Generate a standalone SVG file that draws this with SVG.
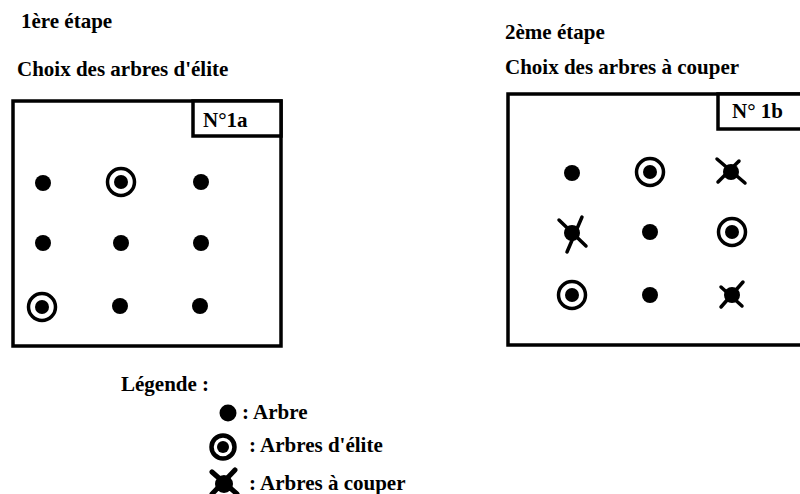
<svg xmlns="http://www.w3.org/2000/svg" width="800" height="494" viewBox="0 0 800 494">
<defs>
<style>
text{font-family:"Liberation Serif","Times New Roman",serif;font-weight:bold;fill:#000;}
.t{font-size:21px;}
.box{fill:#fff;stroke:#000;stroke-width:3.5;}
.dot{fill:#000;}
.ring{fill:none;stroke:#000;stroke-width:3.5;}
.x{stroke:#000;stroke-width:3.5;stroke-linecap:round;}
</style>
<g id="tree"><circle class="dot" r="8"/></g>
<g id="elite"><circle class="ring" r="13.5"/><circle class="dot" r="7"/></g>
</defs>
<rect width="800" height="494" fill="#fff"/>
<g id="titles">
<text class="t" x="21" y="28">1ère étape</text>
<text class="t" x="17" y="76">Choix des arbres d'élite</text>
<text class="t" x="505" y="39">2ème étape</text>
<text class="t" x="505" y="74">Choix des arbres à couper</text>
</g>
<g id="plot1a">
<rect class="box" x="13" y="101" width="268" height="245"/>
<rect class="box" x="193" y="101" width="88" height="35"/>
<text class="t" x="203" y="127">N°1a</text>
<use href="#tree" x="43" y="183"/>
<use href="#elite" x="121" y="182"/>
<use href="#tree" x="201" y="182"/>
<use href="#tree" x="43" y="243"/>
<use href="#tree" x="121" y="243"/>
<use href="#tree" x="201" y="243"/>
<use href="#elite" x="42" y="307"/>
<use href="#tree" x="120" y="306"/>
<use href="#tree" x="200" y="306"/>
</g>
<g id="plot1b">
<rect class="box" x="508" y="94" width="300" height="251"/>
<rect class="box" x="718" y="94" width="90" height="35"/>
<text class="t" x="732" y="118">N° 1b</text>
<use href="#tree" x="572" y="173"/>
<use href="#elite" x="650" y="172"/>
<g transform="translate(731,172)"><circle class="dot" r="8"/><line class="x" x1="-14" y1="-13" x2="14" y2="11"/><line class="x" x1="8" y1="-11" x2="-13" y2="10"/></g>
<g transform="translate(572,233)"><circle class="dot" r="8"/><line class="x" x1="-13" y1="-13" x2="14" y2="13"/><line class="x" x1="10" y1="-16" x2="-5" y2="19"/></g>
<use href="#tree" x="650" y="232"/>
<use href="#elite" x="732" y="232"/>
<use href="#elite" x="572" y="295"/>
<use href="#tree" x="650" y="295"/>
<g transform="translate(732,295)"><circle class="dot" r="8"/><line class="x" x1="11" y1="-13" x2="-11" y2="12"/><line class="x" x1="-11" y1="-8" x2="10" y2="11"/></g>
</g>
<g id="legend">
<text class="t" x="121" y="391">Légende :</text>
<circle class="dot" cx="228" cy="413" r="8.5"/>
<text class="t" x="242" y="419">: Arbre</text>
<circle class="ring" cx="223" cy="447" r="11.5" style="stroke-width:4.5"/>
<circle class="dot" cx="223" cy="447" r="6"/>
<text class="t" x="249" y="452">: Arbres d'élite</text>
<g transform="translate(224,484)"><circle class="dot" r="9"/><line class="x" x1="-12" y1="-12" x2="13" y2="10" style="stroke-width:5"/><line class="x" x1="11" y1="-14" x2="-12" y2="10" style="stroke-width:5"/></g>
<text class="t" x="249" y="490">: Arbres à couper</text>
</g>
</svg>
